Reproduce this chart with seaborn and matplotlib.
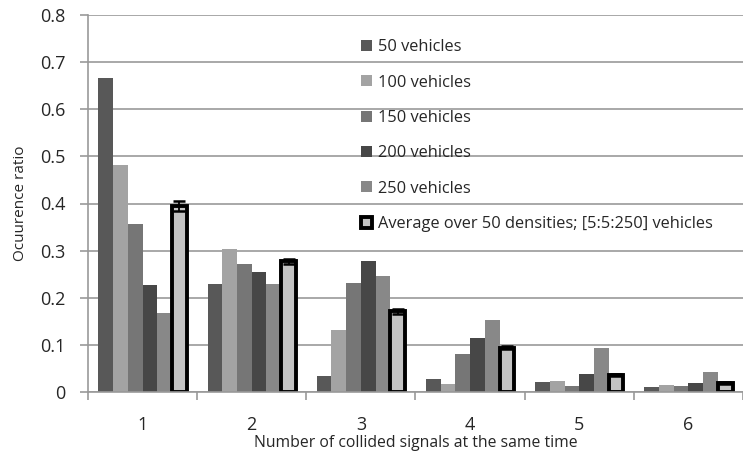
import numpy as np
import pandas as pd
import matplotlib
matplotlib.use("Agg")
import matplotlib.pyplot as plt
import seaborn as sns

# Data
groups = ["1", "2", "3", "4", "5", "6"]
v50 = [0.667, 0.229, 0.035, 0.027, 0.022, 0.011]
v100 = [0.481, 0.304, 0.132, 0.018, 0.024, 0.015]
v150 = [0.357, 0.272, 0.232, 0.081, 0.013, 0.012]
v200 = [0.226, 0.255, 0.278, 0.115, 0.039, 0.019]
v250 = [0.168, 0.229, 0.247, 0.153, 0.093, 0.042]
avg = [0.395, 0.277, 0.171, 0.094, 0.037, 0.020]
avg_err = [0.010, 0.006, 0.006, 0.003, 0.002, 0.002]

series = ["50 vehicles", "100 vehicles", "150 vehicles", "200 vehicles",
          "250 vehicles", "Average over 50 densities; [5:5:250] vehicles"]
colors = ["#585858", "#a3a3a3", "#767676", "#474747", "#888888", "#c3c3c3"]

rows = []
for name, vals in zip(series, [v50, v100, v150, v200, v250, avg]):
    for g, v in zip(groups, vals):
        rows.append({"group": g, "series": name, "value": v})
data = pd.DataFrame(rows)

sns.set_style("white")
plt.rcParams["font.family"] = ["Open Sans", "DejaVu Sans"]

fig = plt.figure(figsize=(7.43, 4.57), dpi=100)
ax = fig.add_axes([88 / 743, 1 - 392 / 457, 1 - 88 / 743, (392 - 15) / 457])

sns.barplot(data=data, x="group", y="value", hue="series", palette=colors,
            width=0.81, ax=ax, saturation=1, errorbar=None, legend=True,
            linewidth=0)

# Style the average bars and add error bars
avg_bars = ax.containers[5]
for bar in avg_bars:
    bar.set_edgecolor("black")
    bar.set_linewidth(2.8)
xs = [b.get_x() + b.get_width() / 2 for b in avg_bars]
ax.errorbar(xs, avg, yerr=avg_err, fmt="none", ecolor="black",
            elinewidth=1.3, capsize=4.5, capthick=1.8, zorder=5)

ax.set_ylim(0, 0.8)
ax.set_xlim(-0.5, 5.40)
ax.set_yticks(np.arange(0, 0.81, 0.1))
ax.set_yticklabels(["0", "0.1", "0.2", "0.3", "0.4", "0.5", "0.6", "0.7", "0.8"])
ax.yaxis.grid(True, color="#999999", linewidth=1.2)
ax.set_axisbelow(True)

ax.set_xticks(np.arange(-0.5, 6.0, 1.0), minor=True)
ax.tick_params(axis="x", which="major", length=0, labelsize=13, pad=17)
ax.tick_params(axis="x", which="minor", length=6, color="#999999", width=1.2,
               direction="out", bottom=True)
ax.tick_params(axis="y", which="major", length=6, color="#999999", width=1.2,
               direction="out", left=True, labelsize=13, pad=10)

for s in ["top", "right"]:
    ax.spines[s].set_visible(False)
for s in ["left", "bottom"]:
    ax.spines[s].set_color("#999999")
    ax.spines[s].set_linewidth(1.2)

ax.set_xlabel("Number of collided signals at the same time", fontsize=11.3, labelpad=1)
ax.set_ylabel("Ocuurence ratio", fontsize=11, labelpad=9)

handles, labels = ax.get_legend_handles_labels()
handles[5].set_edgecolor("black")
handles[5].set_linewidth(2.8)
leg = ax.legend(handles, labels, loc="upper left", bbox_to_anchor=(0.395, 0.975),
                frameon=False, fontsize=11.8, labelspacing=1.18,
                handlelength=0.65, handleheight=0.65, handletextpad=0.35)

fig.savefig("out.png", dpi=100)
